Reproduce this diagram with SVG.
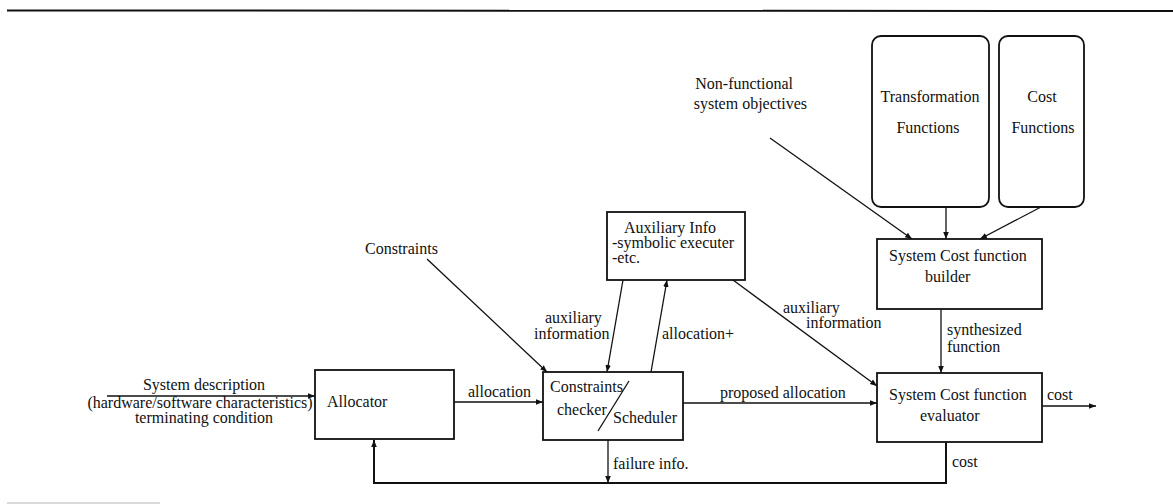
<svg xmlns="http://www.w3.org/2000/svg" width="1173" height="504" viewBox="0 0 1173 504">
<style>
text{font-family:"Liberation Serif","Times New Roman",serif;font-size:16px;fill:#111}
.box{fill:none;stroke:#111;stroke-width:1.8}
.ln{fill:none;stroke:#111;stroke-width:1.3}
.thick{fill:none;stroke:#111;stroke-width:2}
.m{text-anchor:middle}
</style>
<defs>
<marker id="ah" viewBox="0 0 10 10" refX="10" refY="5" markerWidth="7" markerHeight="7" markerUnits="userSpaceOnUse" orient="auto">
<path d="M0,1 L10,5 L0,9 Z" fill="#111"/>
</marker>
</defs>
<rect width="1173" height="504" fill="#fff"/>
<line x1="7" y1="10.5" x2="1173" y2="11" stroke="#111" stroke-width="2"/>
<line x1="7" y1="503" x2="160" y2="503" stroke="#ccc" stroke-width="1.5"/>

<g id="allocator"><rect class="box" x="315" y="370" width="139" height="69"/><text x="327" y="407">Allocator</text></g>
<g id="checker"><rect class="box" x="543" y="372" width="140" height="68"/>
<text x="550" y="392">Constraints</text><text x="557" y="415">checker</text><text x="613" y="423">Scheduler</text>
<line x1="598" y1="431" x2="629" y2="381" stroke="#111" stroke-width="1.3"/></g>
<g id="auxinfo"><rect class="box" x="607" y="212" width="138" height="68"/>
<text x="624" y="233">Auxiliary Info</text><text x="612" y="248">-symbolic executer</text><text x="612" y="263">-etc.</text></g>
<g id="evaluator"><rect class="box" x="877" y="373" width="165" height="69"/>
<text x="889" y="400">System Cost function</text><text x="920" y="421">evaluator</text></g>
<g id="builder"><rect class="box" x="877" y="239" width="165" height="70"/>
<text x="889" y="261">System Cost function</text><text x="925" y="282">builder</text></g>
<g id="transformation"><rect class="box" x="872" y="36" width="117" height="171" rx="9"/>
<text class="m" x="930" y="102">Transformation</text><text class="m" x="928" y="133">Functions</text></g>
<g id="costfunctions"><rect class="box" x="999" y="36" width="85" height="171" rx="9"/>
<text class="m" x="1042" y="102">Cost</text><text class="m" x="1043" y="133">Functions</text></g>

<g id="labels">
<text class="m" x="204" y="390">System description</text>
<text class="m" x="200" y="408">(hardware/software characteristics)</text>
<text class="m" x="204" y="423">terminating condition</text>
<text x="468" y="397">allocation</text>
<text x="720" y="398">proposed allocation</text>
<text x="613" y="469">failure info.</text>
<text x="1047" y="400">cost</text>
<text x="952" y="467">cost</text>
<text x="947" y="335">synthesized</text>
<text x="947" y="352">function</text>
<text x="365" y="254">Constraints</text>
<text x="545" y="323">auxiliary</text>
<text x="534" y="339">information</text>
<text x="662" y="339">allocation+</text>
<text x="783" y="313">auxiliary</text>
<text x="806" y="328">information</text>
<text x="793" y="89" text-anchor="end">Non-functional</text>
<text x="807" y="109" text-anchor="end">system objectives</text>
</g>

<g id="connectors">
<line class="ln" x1="107" y1="396" x2="315" y2="396" marker-end="url(#ah)"/>
<line class="ln" x1="454" y1="402" x2="543" y2="402" marker-end="url(#ah)"/>
<line class="ln" x1="683" y1="403" x2="877" y2="403" marker-end="url(#ah)"/>
<line class="ln" x1="1042" y1="406" x2="1096" y2="406" marker-end="url(#ah)"/>
<line class="ln" x1="427" y1="259" x2="547" y2="372" marker-end="url(#ah)"/>
<line class="ln" x1="623" y1="280" x2="607" y2="372" marker-end="url(#ah)"/>
<line class="ln" x1="651" y1="372" x2="667" y2="280" marker-end="url(#ah)"/>
<line class="ln" x1="733" y1="280" x2="877" y2="386" marker-end="url(#ah)"/>
<line class="ln" x1="941" y1="309" x2="941" y2="373" marker-end="url(#ah)"/>
<line class="ln" x1="946" y1="207" x2="946" y2="239" marker-end="url(#ah)"/>
<line class="ln" x1="1041" y1="207" x2="980" y2="239" marker-end="url(#ah)"/>
<line class="ln" x1="770" y1="138" x2="912" y2="239" marker-end="url(#ah)"/>
<line class="ln" x1="608" y1="440" x2="608" y2="483" marker-end="url(#ah)"/>
<polyline class="thick" points="946,442 946,483 374,483 374,440" marker-end="url(#ah)"/>
</g>
</svg>
